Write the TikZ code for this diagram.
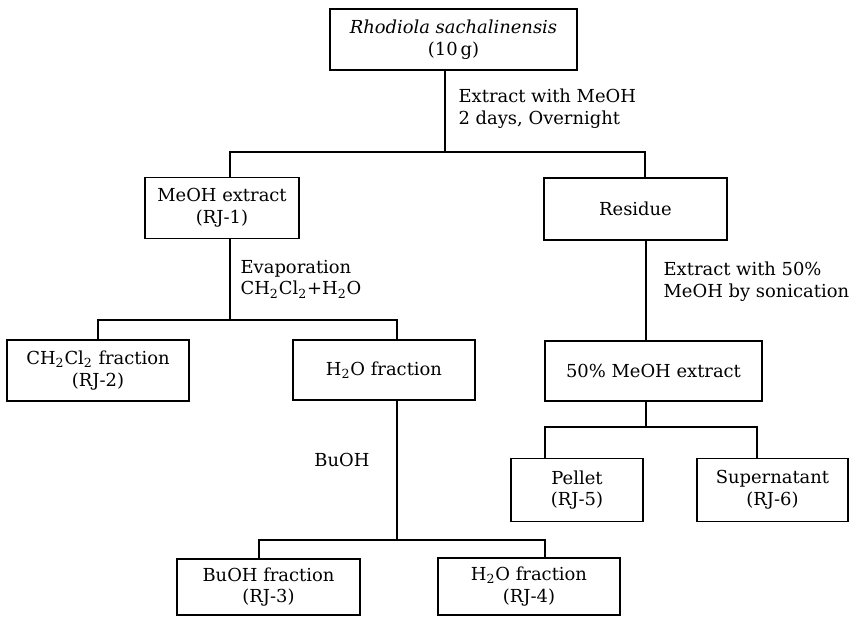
\documentclass[tikz,border=0pt]{standalone}
\usepackage{fontspec}
\setmainfont{DejaVu Serif}
\usepackage{tikz}
\usetikzlibrary{positioning}

\begin{document}
\begin{tikzpicture}[x=0.02cm,y=-0.02cm,line width=0.7pt,
  every node/.style={font=\fontsize{10.2}{12.4}\selectfont},
  box/.style={draw,rectangle,align=center,inner sep=2pt},
  note/.style={align=left,anchor=west,inner sep=0pt}]

\useasboundingbox (0,0) rectangle (866,616);

% boxes
\node[box, minimum width=247*0.02cm, minimum height=61*0.02cm] (rs) at (453.5,39.5) {\textit{Rhodiola sachalinensis}\\(10\,g)};
\node[box, minimum width=154*0.02cm, minimum height=61*0.02cm] (meoh) at (222,208) {MeOH extract\\(RJ-1)};
\node[box, minimum width=183*0.02cm, minimum height=62*0.02cm] (res) at (635.5,209) {Residue};
\node[box, minimum width=182*0.02cm, minimum height=61*0.02cm] (ch2) at (98,370.5) {CH\textsubscript{2}Cl\textsubscript{2} fraction\\(RJ-2)};
\node[box, minimum width=182*0.02cm, minimum height=60*0.02cm] (h2o) at (384,370) {H\textsubscript{2}O fraction};
\node[box, minimum width=217*0.02cm, minimum height=60*0.02cm] (half) at (653.5,371) {50\% MeOH extract};
\node[box, minimum width=132*0.02cm, minimum height=63*0.02cm] (pel) at (577,490) {Pellet\\(RJ-5)};
\node[box, minimum width=151*0.02cm, minimum height=63*0.02cm] (sup) at (772.5,490) {Supernatant\\(RJ-6)};
\node[box, minimum width=183*0.02cm, minimum height=56*0.02cm] (buoh) at (268.5,587) {BuOH fraction\\(RJ-3)};
\node[box, minimum width=182*0.02cm, minimum height=57*0.02cm] (h2ofr) at (529,586.5) {H\textsubscript{2}O fraction\\(RJ-4)};

% labels
\node[note] (l1) at (458,109) {Extract with MeOH\\2 days, Overnight};
\node[note] (l2) at (240,279) {Evaporation\\CH\textsubscript{2}Cl\textsubscript{2}+H\textsubscript{2}O};
\node[note] (l3) at (663,282) {Extract with 50\%\\MeOH by sonication};
\node (l4) at (342,460) {BuOH};

% split points
\coordinate (s1) at (445,152);
\coordinate (s1l) at (230,152);
\coordinate (s1r) at (645,152);
\coordinate (s2) at (230,320);
\coordinate (s2l) at (98,320);
\coordinate (s2r) at (397,320);
\coordinate (s3) at (646,427);
\coordinate (s3l) at (545,427);
\coordinate (s3r) at (757,427);
\coordinate (s4) at (397,540);
\coordinate (s4l) at (259,540);
\coordinate (s4r) at (545,540);

% connectors
\draw (rs.south -| s1) -- (s1);
\draw (meoh.north -| s1l) -- (s1l) -- (s1r) -- (res.north -| s1r);

\draw (meoh.south -| s2) -- (s2);
\draw (ch2.north -| s2l) -- (s2l) -- (s2r) -- (h2o.north -| s2r);

\draw (res.south -| s3) -- (half.north -| s3);

\draw (half.south -| s3) -- (s3);
\draw (pel.north -| s3l) -- (s3l) -- (s3r) -- (sup.north -| s3r);

\draw (h2o.south -| s4) -- (s4);
\draw (buoh.north -| s4l) -- (s4l) -- (s4r) -- (h2ofr.north -| s4r);

\end{tikzpicture}
\end{document}
